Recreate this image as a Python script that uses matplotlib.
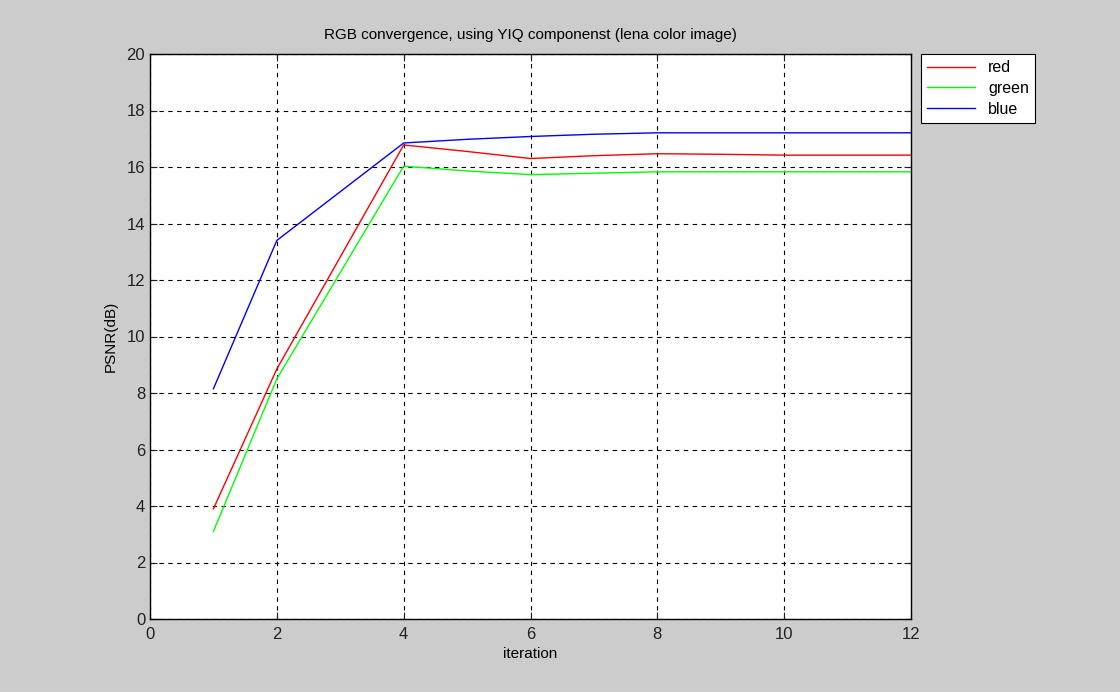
import matplotlib
matplotlib.use("Agg")
import matplotlib.pyplot as plt

# iterations and PSNR values per channel
iters = [1, 2, 4, 5, 6, 7, 8, 9, 10, 11, 12]
red = [3.9, 8.85, 16.78, 16.55, 16.3, 16.4, 16.47, 16.45, 16.42, 16.42, 16.42]
green = [3.1, 8.5, 16.03, 15.86, 15.73, 15.78, 15.83, 15.83, 15.83, 15.83, 15.83]
blue = [8.15, 13.4, 16.85, 16.98, 17.08, 17.16, 17.21, 17.21, 17.21, 17.21, 17.21]

plt.rcParams['font.family'] = ['Liberation Sans', 'DejaVu Sans']
plt.rcParams['font.size'] = 11

fig = plt.figure(figsize=(11.2, 6.92), dpi=100, facecolor='#cccccc')
ax = fig.add_axes([150/1120, 73/692, 761/1120, 565/692])

ax.plot(iters, red, color='#ff0000', lw=1, label='red')
ax.plot(iters, green, color='#00ff00', lw=1, label='green')
ax.plot(iters, blue, color='#0000ff', lw=1, label='blue')

ax.set_xlim(0, 12)
ax.set_ylim(0, 20)
ax.set_xticks(range(0, 13, 2))
ax.set_yticks(range(0, 21, 2))
ax.grid(True, color='black', linestyle=(0, (4, 4)), linewidth=0.8)
ax.tick_params(direction='in', top=True, right=True, length=5, labelsize=12, colors='#222222')
ax.tick_params(axis='x', pad=6)
for s in ax.spines.values():
    s.set_linewidth(1)

ax.set_title('RGB convergence, using YIQ componenst (lena color image)', fontsize=11, pad=11)
ax.set_xlabel('iteration', fontsize=11, labelpad=3)
ax.set_ylabel('PSNR(dB)', fontsize=11, labelpad=6)

leg = ax.legend(loc='upper left', bbox_to_anchor=(1.013, 1.0), fancybox=False,
                edgecolor='black', framealpha=1, fontsize=11.5, handlelength=3,
                borderaxespad=0, labelspacing=0.35)
leg.get_frame().set_linewidth(0.8)

fig.savefig('out.png', dpi=100, facecolor=fig.get_facecolor())
